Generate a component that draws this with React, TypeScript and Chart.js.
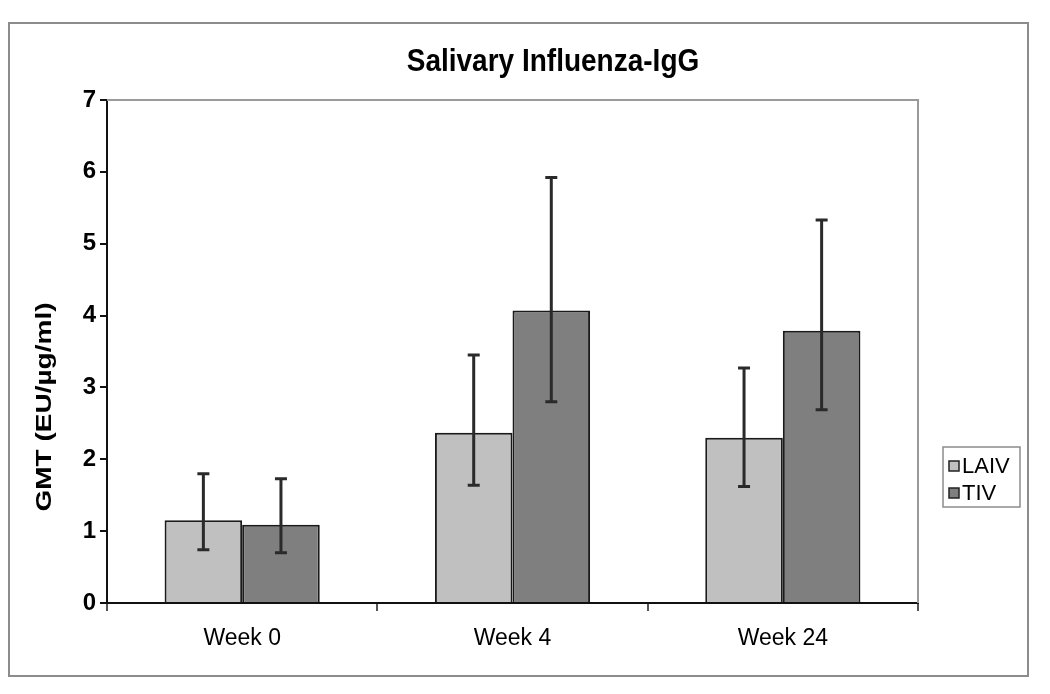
import React, { useEffect, useRef } from "react";
import { Chart, registerables } from "chart.js";

Chart.register(...registerables);

// ---- data ----
const categories = ["Week 0", "Week 4", "Week 24"];
const seriesNames = ["LAIV", "TIV"];
const laivValues = [1.15, 2.37, 2.3];
const tivValues = [1.09, 4.07, 3.79];
const laivUpper = [1.8, 3.45, 3.27];
const laivLower = [0.74, 1.64, 1.62];
const tivUpper = [1.73, 5.92, 5.33];
const tivLower = [0.7, 2.8, 2.69];
const yTickValues = [0, 1, 2, 3, 4, 5, 6, 7];
const chartTitle = "Salivary Influenza-IgG";
const yAxisTitle = "GMT (EU/µg/ml)";

const FONT = "'Liberation Sans', Arial, sans-serif";

const errorBarsPlugin = {
  id: "errorBars",
  afterDatasetsDraw(chart: any) {
    const ctx = chart.ctx;
    const y = chart.scales.y;
    chart.data.datasets.forEach((ds: any, i: number) => {
      const meta = chart.getDatasetMeta(i);
      meta.data.forEach((bar: any, j: number) => {
        const x = bar.x;
        const yHi = y.getPixelForValue(ds.errHigh[j]);
        const yLo = y.getPixelForValue(ds.errLow[j]);
        ctx.save();
        ctx.strokeStyle = "#2a2a2a";
        ctx.lineWidth = 3;
        ctx.beginPath();
        ctx.moveTo(x, yHi);
        ctx.lineTo(x, yLo);
        ctx.moveTo(x - 6, yHi);
        ctx.lineTo(x + 6, yHi);
        ctx.moveTo(x - 6, yLo);
        ctx.lineTo(x + 6, yLo);
        ctx.stroke();
        ctx.restore();
      });
    });
  },
};

const decorPlugin = {
  id: "decor",
  beforeDraw(chart: any) {
    const ctx = chart.ctx;
    ctx.save();
    ctx.fillStyle = "#ffffff";
    ctx.fillRect(0, 0, chart.width, chart.height);
    ctx.strokeStyle = "#8c8c8c";
    ctx.lineWidth = 2;
    ctx.strokeRect(1, 15, 1019, 653);
    ctx.restore();
  },
  beforeDatasetsDraw(chart: any) {
    const ctx = chart.ctx;
    const a = chart.chartArea;
    ctx.save();
    ctx.strokeStyle = "#9a9a9a";
    ctx.lineWidth = 2;
    ctx.beginPath();
    ctx.moveTo(a.left, a.top);
    ctx.lineTo(a.right, a.top);
    ctx.lineTo(a.right, a.bottom);
    ctx.stroke();
    ctx.restore();
  },
  afterDraw(chart: any) {
    const ctx = chart.ctx;
    const a = chart.chartArea;

    // chart title
    ctx.save();
    ctx.translate(545, 55);
    ctx.scale(1, 1.1);
    ctx.font = "bold 28px " + FONT;
    ctx.fillStyle = "#000";
    ctx.textAlign = "center";
    ctx.textBaseline = "middle";
    ctx.fillText(chartTitle, 0, 0);
    ctx.restore();

    // y axis title
    ctx.save();
    ctx.translate(37, 399);
    ctx.rotate(-Math.PI / 2);
    ctx.font = "bold 22px " + FONT;
    const w = ctx.measureText(yAxisTitle).width;
    ctx.scale(209 / w, 1);
    ctx.fillStyle = "#000";
    ctx.textAlign = "center";
    ctx.textBaseline = "middle";
    ctx.fillText(yAxisTitle, 0, 0);
    ctx.restore();

    // legend
    const lx = a.right + 25;
    const ly = 439;
    ctx.save();
    ctx.strokeStyle = "#8c8c8c";
    ctx.lineWidth = 1.5;
    ctx.strokeRect(lx, ly, 77, 60);
    ctx.font = "22px " + FONT;
    ctx.textBaseline = "middle";
    ctx.textAlign = "left";
    chart.data.datasets.forEach((ds: any, i: number) => {
      const cy = ly + 19 + i * 27;
      ctx.fillStyle = ds.backgroundColor;
      ctx.fillRect(lx + 6, cy - 5, 10, 10);
      ctx.strokeStyle = "#222";
      ctx.lineWidth = 1.5;
      ctx.strokeRect(lx + 6, cy - 5, 10, 10);
      ctx.fillStyle = "#000";
      ctx.fillText(ds.label, lx + 19, cy + 1);
    });
    ctx.restore();
  },
};

export default function App() {
  const ref = useRef<HTMLCanvasElement | null>(null);
  useEffect(() => {
    if (!ref.current) return;
    const chart = new Chart(ref.current, {
      type: "bar",
      data: {
        labels: categories,
        datasets: [
          {
            label: seriesNames[0],
            data: laivValues,
            errHigh: laivUpper,
            errLow: laivLower,
            backgroundColor: "#c0c0c0",
            borderColor: "#1a1a1a",
            borderWidth: 2,
            barPercentage: 1,
            categoryPercentage: 0.574,
          } as any,
          {
            label: seriesNames[1],
            data: tivValues,
            errHigh: tivUpper,
            errLow: tivLower,
            backgroundColor: "#7f7f7f",
            borderColor: "#1a1a1a",
            borderWidth: 2,
            barPercentage: 1,
            categoryPercentage: 0.574,
          } as any,
        ],
      },
      options: {
        responsive: false,
        animation: false,
        layout: { padding: { left: 0, right: 124, top: 92, bottom: 0 } },
        plugins: {
          legend: { display: false },
          tooltip: { enabled: false },
          title: { display: false },
        },
        scales: {
          x: {
            afterFit(scale: any) {
              scale.height = 83;
            },
            grid: {
              offset: true,
              drawOnChartArea: false,
              drawTicks: true,
              tickLength: 8,
              color: "#555",
              lineWidth: 2,
            },
            border: { display: true, color: "#111", width: 2 },
            ticks: {
              color: "#000",
              padding: 14,
              font: { family: FONT, size: 23 },
            },
          },
          y: {
            min: 0,
            max: 7,
            afterFit(scale: any) {
              scale.width = 99;
            },
            afterBuildTicks(scale: any) {
              scale.ticks = yTickValues.map((v) => ({ value: v }));
            },
            grid: {
              drawOnChartArea: false,
              drawTicks: true,
              tickLength: 7,
              color: "#111",
              lineWidth: 2,
            },
            border: { display: true, color: "#111", width: 2 },
            ticks: {
              color: "#000",
              padding: 4,
              font: { family: FONT, size: 24, weight: "bold" },
            },
          },
        },
      },
      plugins: [decorPlugin, errorBarsPlugin],
    } as any);
    return () => chart.destroy();
  }, []);
  return (
    <canvas
      ref={ref}
      width={1034}
      height={678}
      style={{ display: "block", width: "1034px", height: "678px" }}
    />
  );
}
